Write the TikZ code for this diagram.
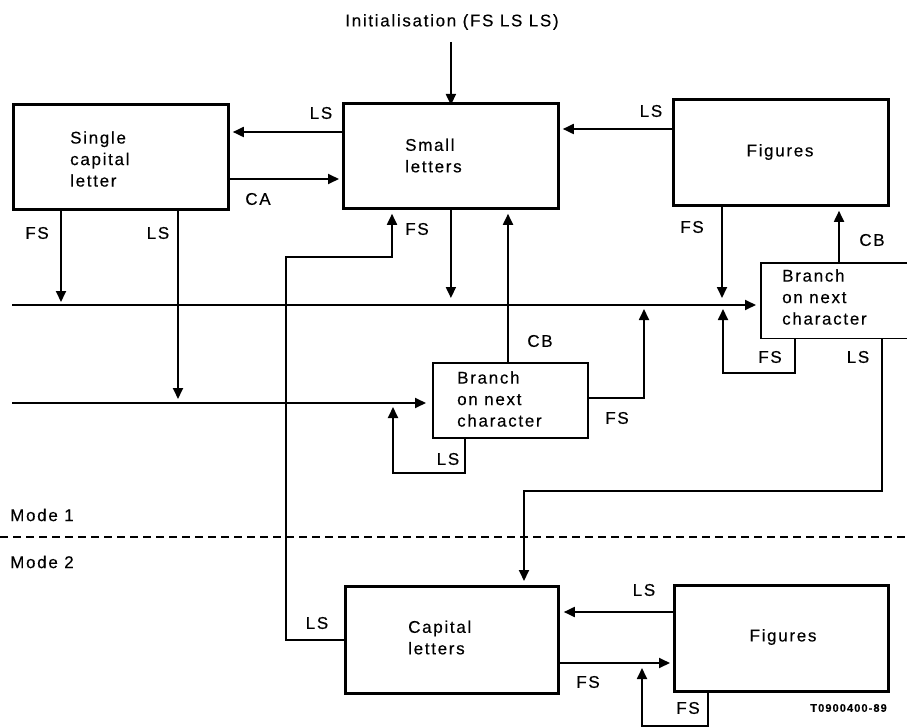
\documentclass[tikz,border=0pt]{standalone}
\usepackage{fontspec}
\setmainfont{Liberation Sans}[LetterSpace=10.0, FakeBold=0.3]
\usetikzlibrary{arrows.meta,calc}
\begin{document}
\begin{tikzpicture}[x=1pt,y=-1pt,
 box/.style={draw, line width=2.8pt, anchor=north west, inner sep=0pt},
 brbox/.style={draw, line width=1.8pt, anchor=north west, inner sep=0pt},
 txt/.style={font=\fontsize{17}{21.5}\selectfont, align=left, inner sep=0pt},
 lbl/.style={font=\fontsize{17}{20}\selectfont, inner sep=0pt},
 conn/.style={line width=1.8pt},
 arr/.style={conn, -{Triangle[length=11pt,width=10pt]}}]
\useasboundingbox (0,0) rectangle (907,727);
\fill[white] (0,0) rectangle (907,727);

% boxes
\node[box, minimum width=215pt, minimum height=105pt] (scl) at (12,103) {};
\node[box, minimum width=215pt, minimum height=105pt] (small) at (342,102) {};
\node[box, minimum width=215pt, minimum height=106pt] (figt) at (672,98) {};
\node[brbox, minimum width=155pt, minimum height=75pt] (mbr) at (432,362) {};
\node[anchor=north west, inner sep=0pt, minimum width=146pt, minimum height=75pt] (rbr) at (761,263) {};
\draw[line width=1.8pt] (rbr.north east) -- (rbr.north west) -- (rbr.south west) -- (rbr.south east);
\node[box, minimum width=213pt, minimum height=107pt] (cap) at (344,585) {};
\node[box, minimum width=214pt, minimum height=106pt] (figb) at (673,584) {};

% box texts
\node[txt, anchor=west] (tscl) at (70,159) {Single\\capital\\letter};
\node[txt, anchor=west] (tsmall) at (405,155.5) {Small\\letters};
\node[txt] (tfigt) at (780,152) {Figures};
\node[txt, anchor=west] (tmbr) at (457,399) {Branch\\on next\\character};
\node[txt, anchor=west] (trbr) at (782,297) {Branch\\on next\\character};
\node[txt, anchor=west] (tcap) at (408,637.5) {Capital\\letters};
\node[txt] (tfigb) at (783,637) {Figures};

% title
\node[lbl] (init) at (452,22) {Initialisation (FS LS LS)};
\draw[arr] (small.north |- 0,42) -- ([yshift=-3pt]small.north);

% free-end coordinates
\coordinate (in1) at (12,305);
\coordinate (in2) at (12,403);

% top row connectors
\draw[arr, shorten >=3pt] (small.west |- 0,132) -- (scl.east |- 0,132);
\draw[arr, shorten >=3pt] (scl.east |- 0,179) -- (small.west |- 0,179);
\draw[arr, shorten >=3pt] (figt.west |- 0,129) -- (small.east |- 0,129);

% horizontal lines
\draw[arr, shorten >=5pt] (in1) -- (rbr.west |- in1);
\draw[arr, shorten >=6pt] (in2) -- (mbr.west |- in2);

% down arrows to line 1
\draw[arr] (scl.south -| 61,0) -- (61,302);
\draw[arr] (small.south) -- (small.south |- 0,298);
\draw[arr] (figt.south -| 722,0) -- (722,298);
% LS down from single capital to line 2
\draw[arr] (scl.south -| 178,0) -- (178,399);

% CB from mbr to small letters
\draw[arr, shorten >=4pt] (mbr.north -| 508,0) -- (small.south -| 508,0);
% FS from mbr to line 1
\draw[arr] (mbr.east |- 0,398) -| (644,309);
% LS loop of mbr
\draw[arr] (mbr.south -| 465,0) -- (465,473) -| (393,407);

% CB from rbr to figures
\draw[arr, shorten >=4pt] (rbr.north -| 839,0) -- (figt.south -| 839,0);
% FS loop of rbr
\draw[arr] (rbr.south -| 795,0) -- (795,373) -| (723,309);
% LS from rbr to capital letters
\draw[arr, shorten >=4pt] (rbr.south -| 882,0) -- (882,491) -| (cap.north -| 524,0);

% LS from capital letters to small letters
\draw[arr, shorten >=4pt] (cap.west |- 0,640) -| (286,257) -| (small.south -| 392,0);

% bottom row
\draw[arr, shorten >=4pt] (figb.west |- 0,612) -- (cap.east |- 0,612);
\draw[arr, shorten >=3pt] (cap.east |- 0,663) -- (figb.west |- 0,663);
\draw[arr] (figb.south -| 708,0) -- (708,726) -| (642,668);

% mode separator
\draw[line width=1.5pt, dash pattern=on 8pt off 5pt] (0,537) -- (907,537);
\node[lbl, anchor=west] (m1) at (10,515) {Mode 1};
\node[lbl, anchor=west] (m2) at (10,562) {Mode 2};

% labels
\node[lbl] (l1) at (321,113) {LS};
\node[lbl] (l2) at (258,199) {CA};
\node[lbl] (l3) at (37,233) {FS};
\node[lbl] (l4) at (158,233) {LS};
\node[lbl] (l5) at (417,229) {FS};
\node[lbl] (l6) at (651,111) {LS};
\node[lbl] (l7) at (692,227) {FS};
\node[lbl] (l8) at (872,240) {CB};
\node[lbl] (l9) at (540,341) {CB};
\node[lbl] (l10) at (617,418) {FS};
\node[lbl] (l11) at (448,459) {LS};
\node[lbl] (l12) at (770,357) {FS};
\node[lbl] (l13) at (858,357) {LS};
\node[lbl] (l14) at (317,623) {LS};
\node[lbl] (l15) at (644,590) {LS};
\node[lbl] (l16) at (588,682) {FS};
\node[lbl] (l17) at (688,708) {FS};
\node[font=\fontsize{11}{13}\selectfont\bfseries, inner sep=0pt, anchor=east] (code) at (887,708) {T0900400-89};
\end{tikzpicture}
\end{document}
